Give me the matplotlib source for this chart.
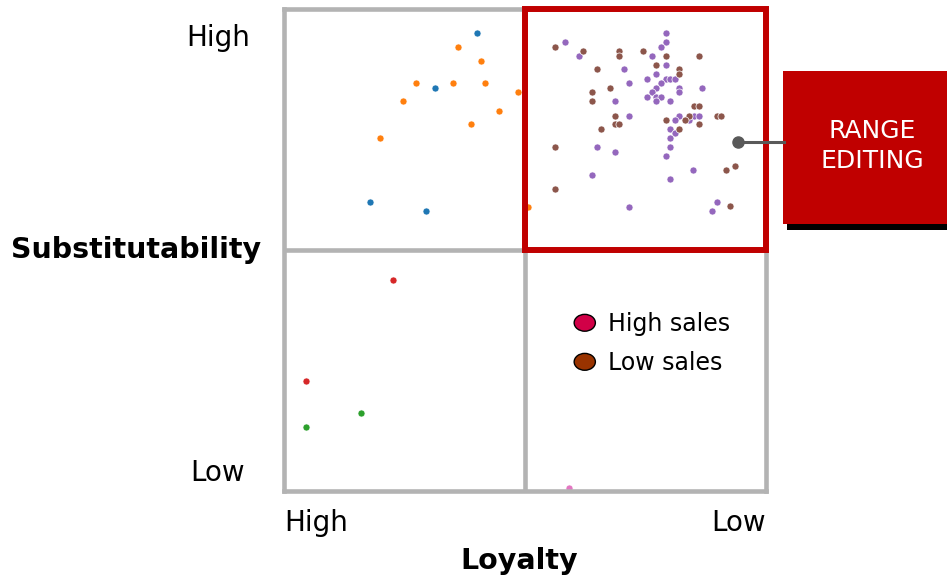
import matplotlib.pyplot as plt
from matplotlib.patches import Rectangle, Ellipse
from matplotlib.lines import Line2D

# loyalty score (0 = high loyalty, 100 = low) and substitutability (0 = low, 100 = high)
blue_x = [40.0, 31.3, 17.9, 29.4]
blue_y = [95.1, 83.7, 59.9, 58.0]

orange_x = [36.1, 40.9, 27.4, 35.1, 41.8, 48.5, 24.6, 44.7, 38.9, 19.9, 50.6]
orange_y = [92.2, 89.3, 84.6, 84.6, 84.6, 82.7, 80.9, 78.9, 76.1, 73.2, 58.9]

green_x = [16.0, 4.6]
green_y = [16.2, 13.3]

red_x = [22.7, 4.6]
red_y = [43.7, 22.9]

purple_x = [58.2, 61.1, 79.2, 79.2, 78.2, 76.3, 79.2, 70.6, 77.2, 75.4, 79.2, 80.1,
            81.1, 71.6, 78.2, 77.2, 82.0, 86.8, 76.3, 82.0, 68.7, 75.4, 77.2, 78.2,
            77.2, 80.1, 71.6, 82.0, 85.0, 86.0, 81.1, 84.0, 80.1, 81.1, 80.1, 64.9,
            68.7, 80.1, 79.2, 63.9, 84.9, 80.1, 71.6, 89.8, 88.8]
purple_y = [93.2, 90.3, 95.1, 93.2, 92.2, 90.3, 88.4, 87.5, 86.6, 85.5, 85.5, 85.5,
            85.5, 84.6, 84.6, 83.7, 83.7, 83.7, 82.8, 82.8, 80.9, 81.8, 81.8, 81.8,
            80.9, 80.9, 77.9, 77.9, 77.9, 77.9, 77.0, 77.0, 75.1, 74.2, 73.2, 71.3,
            70.3, 71.3, 69.4, 65.6, 66.5, 64.7, 58.9, 59.9, 58.0]

brown_x = [56.2, 62.0, 69.6, 69.6, 74.4, 79.2, 86.0, 77.2, 64.9, 82.0, 82.0, 67.7,
           63.9, 63.9, 85.0, 86.0, 68.7, 84.0, 89.8, 90.7, 68.7, 69.6, 79.2, 83.1,
           86.0, 65.8, 82.0, 56.2, 91.6, 93.6, 56.2, 92.5]
brown_y = [92.2, 91.3, 91.3, 90.3, 91.3, 90.3, 90.3, 88.4, 87.5, 87.5, 86.6, 83.7,
           82.8, 80.9, 79.9, 79.9, 77.9, 77.9, 77.9, 77.9, 76.1, 76.1, 77.0, 77.0,
           76.1, 75.1, 75.1, 71.3, 66.5, 67.5, 62.7, 59.1]

pink_x = [59.1]
pink_y = [0.6]

callout_point = (94.2, 72.4)
legend_labels = ['High sales', 'Low sales']
legend_colors = ['#d10047', '#993300']

W, H = 947, 579
fig = plt.figure(figsize=(W / 100, H / 100), dpi=100)


def px(x, y):
    # pixel position (from top-left) to figure fraction
    return x / W, 1 - y / H


ax = fig.add_axes([284 / W, 1 - 491 / H, 482 / W, 482 / H])
ax.set_xlim(0, 100)
ax.set_ylim(0, 100)
ax.set_xticks([])
ax.set_yticks([])
for sp in ax.spines.values():
    sp.set_color('#b3b3b3')
    sp.set_linewidth(3.3)
    sp.set_zorder(4)
ax.axvline(50, color='#b3b3b3', lw=3.3, zorder=1)
ax.axhline(50, color='#b3b3b3', lw=3.3, zorder=1)

groups = [(blue_x, blue_y, '#1f77b4'), (orange_x, orange_y, '#ff7f0e'),
          (green_x, green_y, '#2ca02c'), (red_x, red_y, '#d62728'),
          (purple_x, purple_y, '#9467bd'), (brown_x, brown_y, '#8c564b'),
          (pink_x, pink_y, '#e377c2')]
for gx, gy, c in groups:
    ax.scatter(gx, gy, s=26, color=c, edgecolor='white', linewidth=0.5, zorder=3)

# highlighted quadrant
ax.add_patch(Rectangle((50, 50), 50, 50, fill=False, edgecolor='#c00000',
                       lw=4.3, zorder=5, clip_on=False))

# legend drawn by hand
for i, (lab, col) in enumerate(zip(legend_labels, legend_colors)):
    ly = 34.9 - i * 8.1
    ax.add_patch(Ellipse((62.4, ly), 4.4, 3.5, facecolor=col, edgecolor='black',
                         lw=1, zorder=3))
    ax.text(67.2, ly - 0.3, lab, fontsize=17, va='center', ha='left')

# callout box with shadow
x0, y0 = px(787, 230)
x1, y1 = px(951, 77)
fig.patches.append(Rectangle((x0, y0), x1 - x0, y1 - y0, transform=fig.transFigure,
                             facecolor='black', edgecolor='none', zorder=1))
x0, y0 = px(783, 224)
x1, y1 = px(951, 71)
fig.patches.append(Rectangle((x0, y0), x1 - x0, y1 - y0, transform=fig.transFigure,
                             facecolor='#c00000', edgecolor='none', zorder=2))
fig.text(*px(872, 146), 'RANGE\nEDITING', color='white', fontsize=18,
         ha='center', va='center', linespacing=1.35)

# connector from the quadrant to the box
cx, cy = fig.transFigure.inverted().transform(ax.transData.transform(callout_point))
bx, _ = px(784, 0)
fig.lines.append(Line2D([cx, bx], [cy, cy], transform=fig.transFigure,
                        color='#595959', lw=2.2, zorder=6))
fig.lines.append(Line2D([cx], [cy], transform=fig.transFigure, marker='o',
                        markersize=8, color='#595959', zorder=6))

# axis captions
fig.text(*px(218, 38), 'High', fontsize=20, ha='center', va='center')
fig.text(*px(218, 473), 'Low', fontsize=20, ha='center', va='center')
fig.text(*px(136, 250), 'Substitutability', fontsize=20.5, fontweight='bold',
         ha='center', va='center')
fig.text(*px(316, 523), 'High', fontsize=20, ha='center', va='center')
fig.text(*px(739, 523), 'Low', fontsize=20, ha='center', va='center')
fig.text(*px(519, 561), 'Loyalty', fontsize=20.5, fontweight='bold',
         ha='center', va='center')

fig.savefig('out.png', dpi=100)
